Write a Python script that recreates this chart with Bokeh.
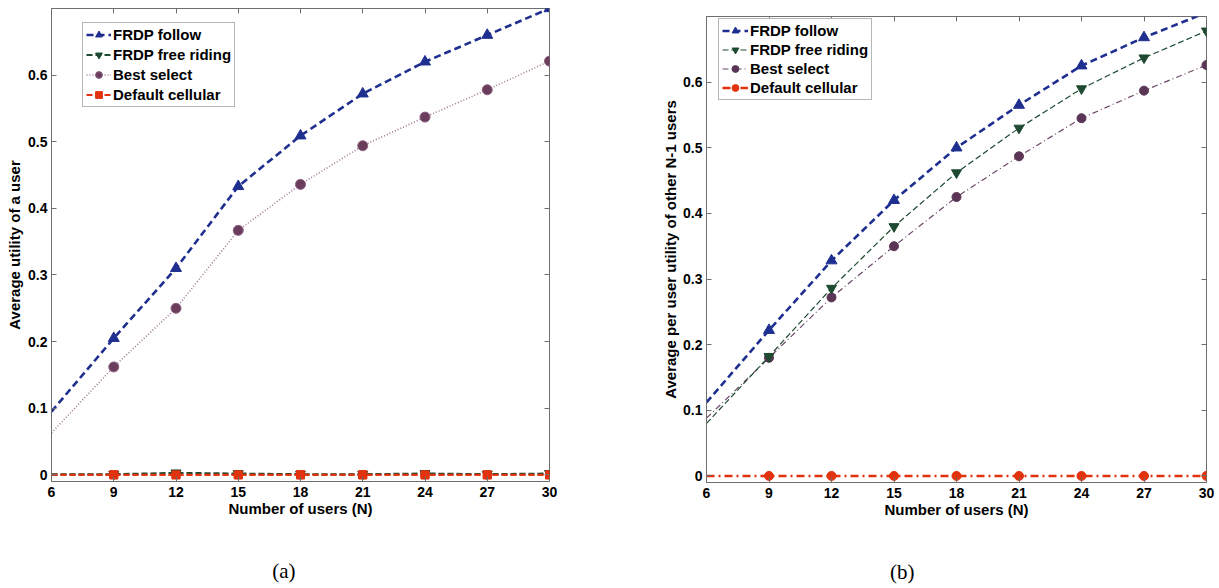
from bokeh.plotting import figure
from bokeh.models import Range1d, FixedTicker, LinearAxis, Legend, LegendItem, Spacer
from bokeh.layouts import row, column
from bokeh.embed import file_html
from bokeh.resources import INLINE

# ---------------- data ----------------
users = [6, 9, 12, 15, 18, 21, 24, 27, 30]
x_ticks = [6, 9, 12, 15, 18, 21, 24, 27, 30]
y_ticks = [0, 0.1, 0.2, 0.3, 0.4, 0.5, 0.6]
y_tick_labels = ["0", "0.1", "0.2", "0.3", "0.4", "0.5", "0.6"]
series_names = ["FRDP follow", "FRDP free riding", "Best select", "Default cellular"]

# panel (a): average utility of a user
a_follow = [0.095, 0.205, 0.310, 0.433, 0.509, 0.572, 0.620, 0.660, 0.700]
a_free = [0.001, 0.001, 0.003, 0.002, 0.001, 0.001, 0.002, 0.001, 0.002]
a_best = [0.063, 0.162, 0.250, 0.367, 0.436, 0.494, 0.537, 0.578, 0.621]
a_default = [0.0, 0.0, 0.0, 0.0, 0.0, 0.0, 0.0, 0.0, 0.0]

# panel (b): average per user utility of other N-1 users
b_follow = [0.112, 0.222, 0.328, 0.420, 0.500, 0.565, 0.625, 0.668, 0.706]
b_free = [0.080, 0.182, 0.286, 0.380, 0.462, 0.530, 0.590, 0.637, 0.678]
b_best = [0.088, 0.180, 0.272, 0.350, 0.425, 0.487, 0.545, 0.587, 0.626]
b_default = [0.0, 0.0, 0.0, 0.0, 0.0, 0.0, 0.0, 0.0, 0.0]

FONT = "Liberation Sans"
BLUE = "#1f2f90"
GREEN = "#1d4a30"
PURPLE = "#6a3d5c"
PURPLE_LINE = "#a07896"
RED = "#e2320e"
FRAME = "#6e6e6e"


def style_axis(ax):
    ax.major_tick_in = 5
    ax.major_tick_out = 0
    ax.minor_tick_line_color = None
    ax.major_tick_line_color = FRAME
    ax.axis_line_color = FRAME
    ax.major_label_text_font = FONT
    ax.major_label_text_font_style = "bold"
    ax.major_label_text_font_size = "14px"
    ax.major_label_text_color = "black"
    ax.axis_label_text_font = FONT
    ax.axis_label_text_font_style = "bold"
    ax.axis_label_text_font_size = "15px"
    ax.axis_label_text_color = "black"


def make_panel(width, height, bl, br, bt, bb, ylabel, ylabel_standoff, caption, caption_x):
    p = figure(width=width, height=height,
               x_range=Range1d(6, 30), y_range=Range1d(-0.01, 0.7),
               output_backend="svg", toolbar_location=None,
               min_border_left=bl, min_border_right=br,
               min_border_top=bt, min_border_bottom=bb,
               x_axis_label="Number of users (N)", y_axis_label=ylabel)
    p.grid.visible = False
    p.outline_line_color = FRAME
    p.background_fill_color = "white"
    p.border_fill_color = "white"
    p.xaxis.ticker = FixedTicker(ticks=x_ticks)
    p.yaxis.ticker = FixedTicker(ticks=y_ticks)
    p.yaxis.major_label_overrides = dict(zip(y_ticks, y_tick_labels))
    for ax in p.xaxis + p.yaxis:
        style_axis(ax)
    p.xaxis.major_label_standoff = 5
    p.xaxis.axis_label_standoff = 0
    p.yaxis.major_label_standoff = 4
    p.yaxis.axis_label_standoff = ylabel_standoff

    # tick marks only (no labels) on the top and right edges of the box
    top = LinearAxis(ticker=FixedTicker(ticks=x_ticks))
    right = LinearAxis(ticker=FixedTicker(ticks=y_ticks))
    for ax in (top, right):
        style_axis(ax)
        ax.major_label_text_font_size = "1px"
        ax.major_label_text_color = None
        ax.major_label_standoff = 0
        ax.axis_line_color = None
    p.add_layout(top, "above")
    p.add_layout(right, "right")

    # sub-figure caption "(a)" / "(b)", written as the only tick label of an empty axis
    cap = LinearAxis(ticker=FixedTicker(ticks=[caption_x]),
                     major_label_overrides={caption_x: caption})
    cap.axis_line_color = None
    cap.major_tick_line_color = None
    cap.minor_tick_line_color = None
    cap.major_label_text_font = "Liberation Serif"
    cap.major_label_text_font_style = "normal"
    cap.major_label_text_font_size = "21px"
    cap.major_label_text_color = "black"
    cap.major_label_standoff = 33
    p.add_layout(cap, "below")
    return p


def add_legend(p, items, loc, spacing, glyph_w):
    leg = Legend(items=items, location=loc)
    leg.label_text_font = FONT
    leg.label_text_font_style = "bold"
    leg.label_text_font_size = "15px"
    leg.label_text_color = "black"
    leg.label_height = 17
    leg.glyph_height = 17
    leg.glyph_width = glyph_w
    leg.spacing = spacing
    leg.padding = 3
    leg.margin = 0
    leg.label_standoff = 2
    leg.border_line_color = FRAME
    leg.border_line_width = 1
    leg.background_fill_alpha = 1
    p.add_layout(leg)


mx = users[1:]

# ---------------- panel (a) ----------------
pa = make_panel(610, 586, 51, 61, 8, 105, "Average utility of a user", 2, "(a)", 17.2)

l_def = pa.line(users, a_default, color=RED, line_width=2, line_dash="6 3")
s_def = pa.scatter(mx, a_default[1:], marker="square", size=8, color=RED)
l_free = pa.line(users, a_free, color=GREEN, line_width=2, line_dash="6 3")
s_free = pa.scatter(mx, a_free[1:], marker="inverted_triangle", size=10, color=GREEN)
l_best = pa.line(users, a_best, color=PURPLE_LINE, line_width=1.6, line_dash="1 2")
s_best = pa.scatter(mx, a_best[1:], marker="circle", size=10, fill_color=PURPLE, line_color="#8a6080")
l_fol = pa.line(users, a_follow, color=BLUE, line_width=2.6, line_dash="7 4")
s_fol = pa.scatter(mx, a_follow[1:], marker="triangle", size=11, color=BLUE)
# default cellular drawn again on top, as in the reference stacking at zero
pa.line(users, a_default, color=RED, line_width=2, line_dash="6 3")
pa.scatter(mx, a_default[1:], marker="square", size=8, color=RED)

add_legend(pa, [
    LegendItem(label=series_names[0], renderers=[l_fol, s_fol]),
    LegendItem(label=series_names[1], renderers=[l_free, s_free]),
    LegendItem(label=series_names[2], renderers=[l_best, s_best]),
    LegendItem(label=series_names[3], renderers=[l_def, s_def]),
], (31, 374), 3, 25)

# ---------------- panel (b) ----------------
pb = make_panel(608, 578, 96, 12, 8, 104, "Average per user utility of other N-1 users", 1, "(b)", 15.4)

m_best = pb.line(users, b_best, color="#6b4868", line_width=1.2, line_dash="6 3 1 3")
t_best = pb.scatter(mx, b_best[1:], marker="circle", size=9, color="#5a3555")
m_free = pb.line(users, b_free, color=GREEN, line_width=1.2, line_dash="6 3")
t_free = pb.scatter(mx, b_free[1:], marker="inverted_triangle", size=10, color=GREEN)
m_fol = pb.line(users, b_follow, color=BLUE, line_width=2.6, line_dash="7 4")
t_fol = pb.scatter(mx, b_follow[1:], marker="triangle", size=11, color=BLUE)
m_def = pb.line(users, b_default, color=RED, line_width=2.4, line_dash="8 4 2 4")
t_def = pb.scatter(mx, b_default[1:], marker="circle", size=9, color=RED)

add_legend(pb, [
    LegendItem(label=series_names[0], renderers=[m_fol, t_fol]),
    LegendItem(label=series_names[1], renderers=[m_free, t_free]),
    LegendItem(label=series_names[2], renderers=[m_best, t_best]),
    LegendItem(label=series_names[3], renderers=[m_def, t_def]),
], (12, 382), 2, 26)

layout = row(pa, column(Spacer(width=608, height=8), pb))
open("out.html", "w").write(file_html(layout, INLINE))
